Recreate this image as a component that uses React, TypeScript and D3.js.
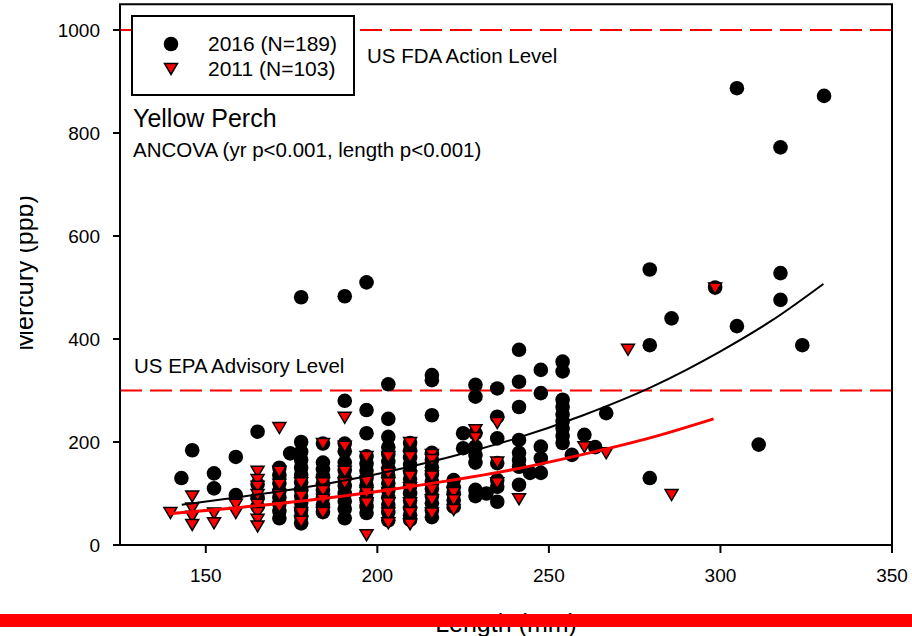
import React from "react";
import * as d3 from "d3";

// ---- data (length mm, mercury ppb) ----
const perch2016: [number, number][] = [
  [142.9, 130], [146.05, 184],
  [152.4, 139], [152.4, 110],
  [158.75, 171], [158.75, 97],
  [165.1, 220], [165.1, 118], [165.1, 92], [165.1, 75],
  [171.45, 150], [171.45, 135], [171.45, 120], [171.45, 105], [171.45, 92], [171.45, 80], [171.45, 66], [171.45, 52],
  [174.6, 178],
  [177.8, 481], [177.8, 200], [177.8, 181], [177.8, 165], [177.8, 150], [177.8, 136], [177.8, 122], [177.8, 108], [177.8, 95], [177.8, 82], [177.8, 68], [177.8, 55], [177.8, 42],
  [184.15, 197], [184.15, 160], [184.15, 147], [184.15, 133], [184.15, 120], [184.15, 106], [184.15, 92], [184.15, 78], [184.15, 64],
  [190.5, 483], [190.5, 280], [190.5, 197], [190.5, 182], [190.5, 160], [190.5, 145], [190.5, 130], [190.5, 115], [190.5, 100], [190.5, 85], [190.5, 70], [190.5, 52],
  [196.85, 510], [196.85, 262], [196.85, 217], [196.85, 172], [196.85, 158], [196.85, 144], [196.85, 130], [196.85, 116], [196.85, 102], [196.85, 88], [196.85, 75], [196.85, 62],
  [203.2, 312], [203.2, 245], [203.2, 210], [203.2, 190], [203.2, 176], [203.2, 162], [203.2, 148], [203.2, 134], [203.2, 120], [203.2, 106], [203.2, 92], [203.2, 78], [203.2, 64], [203.2, 48],
  [209.55, 198], [209.55, 184], [209.55, 170], [209.55, 156], [209.55, 142], [209.55, 128], [209.55, 114], [209.55, 100], [209.55, 86], [209.55, 72], [209.55, 58], [209.55, 49],
  [215.9, 330], [215.9, 320], [215.9, 252], [215.9, 179], [215.9, 165], [215.9, 151], [215.9, 137], [215.9, 123], [215.9, 109], [215.9, 95], [215.9, 81], [215.9, 67], [215.9, 54],
  [222.25, 126], [222.25, 112], [222.25, 100], [222.25, 87], [222.25, 74],
  [225.0, 188], [225.0, 217],
  [228.6, 311], [228.6, 288], [228.6, 217], [228.6, 191], [228.6, 175], [228.6, 160], [228.6, 107], [228.6, 95],
  [231.8, 100],
  [234.95, 304], [234.95, 249], [234.95, 207], [234.95, 159], [234.95, 126], [234.95, 113], [234.95, 84],
  [241.3, 379], [241.3, 317], [241.3, 268], [241.3, 204], [241.3, 179], [241.3, 165], [241.3, 152], [241.3, 117],
  [244.5, 140],
  [247.65, 340], [247.65, 295], [247.65, 191], [247.65, 168], [247.65, 140],
  [254, 356], [254, 337], [254, 282], [254, 268], [254, 254], [254, 240], [254, 226], [254, 212], [254, 198],
  [256.7, 175],
  [260.35, 214], [263.5, 190],
  [266.7, 256],
  [279.4, 535], [279.4, 388], [279.4, 130],
  [285.75, 440],
  [298.45, 500],
  [304.8, 887], [304.8, 425],
  [311.15, 195],
  [317.5, 772], [317.5, 528], [317.5, 476],
  [323.85, 388],
  [330.2, 872],
];

const perch2011: [number, number][] = [
  [139.7, 62],
  [146.05, 94], [146.05, 71], [146.05, 55], [146.05, 39],
  [152.4, 61], [152.4, 42],
  [158.75, 78], [158.75, 62],
  [165.1, 142], [165.1, 126], [165.1, 113], [165.1, 97], [165.1, 78], [165.1, 62], [165.1, 49], [165.1, 36],
  [171.45, 227], [171.45, 142], [171.45, 117], [171.45, 97], [171.45, 74],
  [177.8, 120], [177.8, 94], [177.8, 62], [177.8, 45],
  [184.15, 196], [184.15, 120], [184.15, 105], [184.15, 88], [184.15, 62],
  [190.5, 247], [190.5, 191], [190.5, 142], [190.5, 120],
  [196.85, 171], [196.85, 123], [196.85, 101], [196.85, 81], [196.85, 19],
  [203.2, 171], [203.2, 139], [203.2, 120], [203.2, 101], [203.2, 81], [203.2, 61], [203.2, 42],
  [209.55, 198], [209.55, 171], [209.55, 133], [209.55, 110], [209.55, 81], [209.55, 62], [209.55, 40],
  [215.9, 175], [215.9, 165], [215.9, 133], [215.9, 107], [215.9, 87], [215.9, 61],
  [222.25, 101], [222.25, 87], [222.25, 68],
  [228.6, 223], [228.6, 208],
  [234.95, 237], [234.95, 160], [234.95, 120],
  [241.3, 89],
  [260.35, 190],
  [266.7, 178],
  [273.05, 379],
  [285.75, 97],
  [298.45, 498],
];

// regression curves
const fit2016: [number, number][] = [
  [143, 78], [160, 93], [180, 113], [200, 138], [220, 169], [240, 206],
  [260, 252], [280, 307], [300, 376], [315, 436], [330, 507],
];
const fit2011: [number, number][] = [
  [140, 61], [160, 73], [180, 87], [200, 104], [220, 124], [240, 147],
  [260, 176], [280, 209], [298, 245],
];

const xTicks = [150, 200, 250, 300, 350];
const yTicks = [0, 200, 400, 600, 800, 1000];
const refLevels = [1000, 300];
const legendItems = ["2016 (N=189)", "2011 (N=103)"];

const FONT = "'Liberation Sans', Arial, Helvetica, sans-serif";

export default function App() {
  const W = 912, H = 636;
  const x = d3.scaleLinear().domain([125, 350]).range([120, 892]);
  const y = d3.scaleLinear().domain([0, 1050]).range([545, 4.25]);
  const line = d3.line<[number, number]>().x(d => x(d[0])).y(d => y(d[1])).curve(d3.curveMonotoneX);
  const tri = (cx: number, cy: number) =>
    `M${cx - 6.5},${cy - 5.5}L${cx + 6.5},${cy - 5.5}L${cx},${cy + 5.5}Z`;
  const [x0, x1] = x.range();
  const yTop = y(1050), yBot = y(0);

  return (
    <svg width={W} height={H} style={{ position: "absolute", left: 0, top: 0, background: "#fff" }}
      fontFamily={FONT}>
      <defs>
        <clipPath id="ylabclip"><rect x={20} y={0} width={100} height={H} /></clipPath>
      </defs>
      <rect x={0} y={0} width={W} height={H} fill="#fff" />

      {/* reference lines */}
      {refLevels.map(v => (
        <line key={v} x1={x0} x2={x1} y1={y(v)} y2={y(v)} stroke="#ff0000" strokeWidth={2}
          strokeDasharray="22 8" />
      ))}

      {/* 2016 circles */}
      {perch2016.map((d, i) => (
        <circle key={"c" + i} cx={x(d[0])} cy={y(d[1])} r={7.3} fill="#000" />
      ))}
      {/* 2011 triangles */}
      {perch2011.map((d, i) => (
        <path key={"t" + i} d={tri(x(d[0]), y(d[1]))} fill="#ff0000" stroke="#000" strokeWidth={1.5}
          strokeLinejoin="miter" />
      ))}

      {/* fits */}
      <path d={line(fit2016) || ""} fill="none" stroke="#000" strokeWidth={2} />
      <path d={line(fit2011) || ""} fill="none" stroke="#ff0000" strokeWidth={3} />

      {/* frame */}
      <line x1={x0} x2={x0} y1={yTop} y2={yBot} stroke="#000" strokeWidth={2} />
      <line x1={x0 - 1} x2={x1 + 1} y1={yBot} y2={yBot} stroke="#000" strokeWidth={2} />
      <line x1={x0 - 1} x2={x1 + 1} y1={yTop} y2={yTop} stroke="#000" strokeWidth={2} />
      <line x1={x1} x2={x1} y1={yTop} y2={yBot} stroke="#000" strokeWidth={2} />

      {/* y ticks */}
      {yTicks.map(t => (
        <g key={"y" + t}>
          <line x1={x0 - 7} x2={x0} y1={y(t)} y2={y(t)} stroke="#000" strokeWidth={2} />
          <text x={100} y={y(t)} dy="0.35em" textAnchor="end" fontSize={19} fill="#000">{t}</text>
        </g>
      ))}
      {/* x ticks */}
      {xTicks.map(t => (
        <g key={"x" + t}>
          <line x1={x(t)} x2={x(t)} y1={yBot} y2={yBot + 8} stroke="#000" strokeWidth={2} />
          <text x={x(t)} y={582} textAnchor="middle" fontSize={19} fill="#000">{t}</text>
        </g>
      ))}

      {/* axis titles */}
      <text x={506} y={632} textAnchor="middle" fontSize={25} fill="#000">Length (mm)</text>
      <g clipPath="url(#ylabclip)">
        <text transform={`translate(33,273) rotate(-90)`} textAnchor="middle" fontSize={25} fill="#000">
          Mercury (ppb)
        </text>
      </g>

      {/* legend */}
      <rect x={132} y={16} width={222} height={79} fill="#fff" stroke="#000" strokeWidth={2} />
      <circle cx={171} cy={44} r={7.3} fill="#000" />
      <path d={tri(171, 69)} fill="#ff0000" stroke="#000" strokeWidth={1.5} />
      <text x={208} y={51} fontSize={21} fill="#000">{legendItems[0]}</text>
      <text x={208} y={76} fontSize={21} fill="#000">{legendItems[1]}</text>

      {/* annotations */}
      <text x={367} y={63} fontSize={20.5} fill="#000">US FDA Action Level</text>
      <text x={134} y={373} fontSize={20.5} fill="#000">US EPA Advisory Level</text>
      <text x={133} y={127} fontSize={25} fill="#000">Yellow Perch</text>
      <text x={133} y={157} fontSize={20.5} fill="#000">ANCOVA (yr p&lt;0.001, length p&lt;0.001)</text>

      {/* red bar at bottom */}
      <rect x={0} y={614} width={W} height={13} fill="#ff0000" />
    </svg>
  );
}
